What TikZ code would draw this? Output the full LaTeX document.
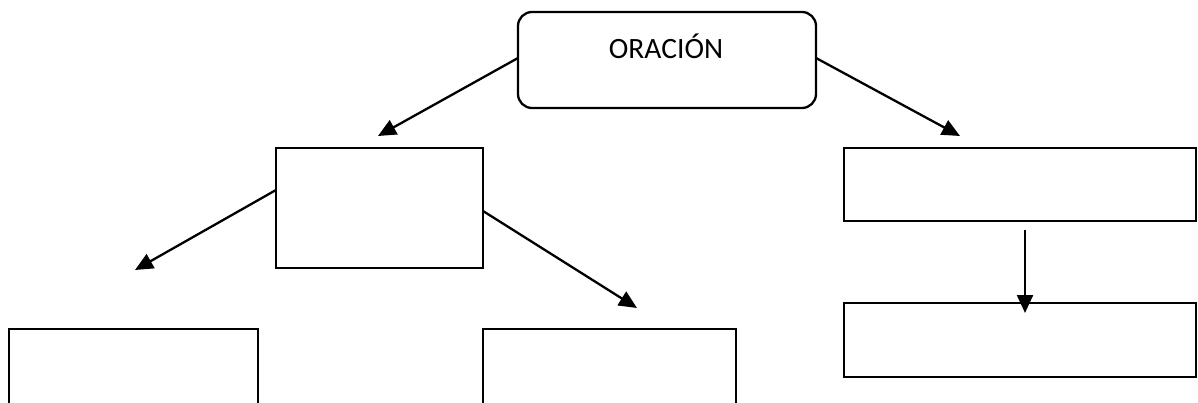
\documentclass[tikz,border=0pt]{standalone}
\usepackage{fontspec}
\setmainfont{Carlito}
\usetikzlibrary{arrows.meta,calc}
\begin{document}
\begin{tikzpicture}[x=1pt,y=-1pt,
  box/.style={draw=black,line width=2.3pt},
  conn/.style={line width=2.3pt,-{Triangle[length=18pt,width=16pt]}}]
\useasboundingbox (0,0) rectangle (1198,403);
\clip (0,0) rectangle (1198,403);
% boxes
\draw[box,rounded corners=14pt] (518,12) rectangle (816,108);
\node[inner sep=0pt,anchor=center,font=\fontsize{29.5}{34}\selectfont] (orac) at (666,46) {ORACIÓN};
\coordinate (ow) at (518,58);
\coordinate (oe) at (816,58);
\draw[box] (276,148) rectangle (483,268);
\coordinate (aw) at (276,190);
\coordinate (ae) at (483,211);
\draw[box] (9,329) rectangle (258,420);
\draw[box] (483,329) rectangle (736,420);
\draw[box] (844,148) rectangle (1196,221);
\draw[box] (844,303) rectangle (1196,377);
% arrow tips
\coordinate (t1) at (378,136);
\coordinate (t2) at (960,136);
\coordinate (t3) at (135,270);
\coordinate (t4) at (637,308);
\coordinate (ds) at (1025,230);
\coordinate (t5) at (1025,313);
\draw[conn] (ow) -- (t1);
\draw[conn] (oe) -- (t2);
\draw[conn] (aw) -- (t3);
\draw[conn] (ae) -- (t4);
\draw[conn] (ds) -- (t5);
\end{tikzpicture}
\end{document}
